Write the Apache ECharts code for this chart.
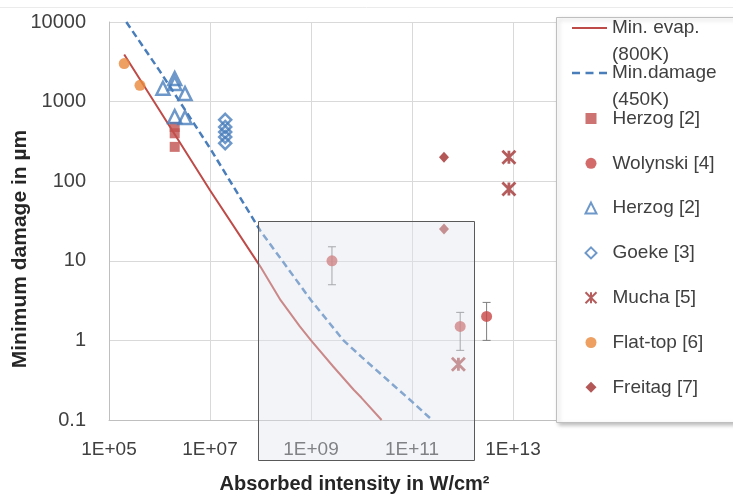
<!DOCTYPE html>
<html>
<head>
<meta charset="utf-8">
<script src="https://cdn.jsdelivr.net/npm/echarts@6/dist/echarts.min.js"></script>
<style>
html, body { margin: 0; padding: 0; background: #fff; }
#chart { width: 733px; height: 494px; }
</style>
</head>
<body>
<div id="chart"></div>
<script>
// x = absorbed intensity (W/cm2), y = minimum damage (um)
const evapX = [2e5, 1e6, 1e7, 1e8, 2.5e8, 6e8, 1e9, 2.75e9, 7e9, 1e10, 2.5e10];
const evapY = [3900, 780, 77, 8.4, 3.2, 1.5, 1.0, 0.47, 0.24, 0.19, 0.1];

const damX = [2.2e5, 1e6, 1e7, 1e8, 1e9, 4.4e9, 1e10, 2.7e10, 1e11, 2.5e11];
const damY = [10000, 2450, 260, 23.7, 3.2, 1.0, 0.62, 0.355, 0.17, 0.1];

const herzogSqX = [2e6, 2e6, 2e6];
const herzogSqY = [480, 400, 270];

const wolX = [2.6e9, 9e11, 3e12];
const wolY = [10, 1.5, 2];
const wolLo = [5, 0.75, 1];
const wolHi = [15, 2.25, 3];

const herzogTriX = [1.17e6, 2e6, 2e6, 3.2e6, 2e6, 3.2e6];
const herzogTriY = [1470, 1950, 1690, 1260, 650, 630];

const goekeX = [2e7, 2e7, 2e7, 2e7, 2e7];
const goekeY = [590, 480, 415, 360, 300];

const muchaX = [8.3e12, 8.3e12, 8.3e11];
const muchaY = [200, 80, 0.5];

const flatX = [2e5, 4.1e5];
const flatY = [3000, 1600];

const freitagX = [4.3e11, 4.3e11];
const freitagY = [200, 25];

// highlighted region (x from..to, top y value)
const boxX = [8.9e7, 1.7e12];
const boxTopY = 31.6;

const FONT = 'Liberation Sans, Arial, sans-serif';
const pts = (xs, ys) => xs.map((x, i) => [x, ys[i]]);

const markerNames = ['Herzog [2]', 'Wolynski [4]', 'Herzog [2] ', 'Goeke [3]', 'Mucha [5]', 'Flat-top [6]', 'Freitag [7]'];

// legend icons for the two curves
const solidIcon = 'path://M0,0L35,0L35,2.2L0,2.2Z';
const dashIcon = 'path://M0,0L8,0L8,2.5L0,2.5ZM13.5,0L21.5,0L21.5,2.5L13.5,2.5ZM27,0L35,0L35,2.5L27,2.5Z';

const chart = echarts.init(document.getElementById('chart'));

const lineLegendText = { fontSize: 19, color: '#404040', fontFamily: FONT, lineHeight: 26.5 };

const option = {
  animation: false,
  grid: { left: 109, right: 119, top: 22, bottom: 74, outerBoundsMode: 'none' },
  xAxis: {
    type: 'log',
    min: 1e5,
    max: 1e15,
    interval: 2,
    name: 'Absorbed intensity in W/cm²',
    nameLocation: 'middle',
    nameGap: 54,
    nameTextStyle: { fontSize: 20, fontWeight: 'bold', color: '#262626', fontFamily: FONT, padding: [0, 14, 0, 0] },
    axisLine: { lineStyle: { color: '#bfbfbf' } },
    axisTick: { show: false },
    axisLabel: {
      fontSize: 19, color: '#404040', fontFamily: FONT, margin: 20, showMaxLabel: false,
      formatter: v => {
        const e = Math.round(Math.log10(v));
        if (e % 2 === 0) return '';
        return '1E+' + String(e).padStart(2, '0');
      }
    },
    splitLine: { show: true, lineStyle: { color: '#d9d9d9' } }
  },
  yAxis: {
    type: 'log',
    min: 0.1,
    max: 10000,
    name: 'Minimum damage in µm',
    nameLocation: 'middle',
    nameGap: 78,
    nameMoveOverlap: false,
    nameTextStyle: { fontSize: 21, fontWeight: 'bold', color: '#262626', fontFamily: FONT, padding: [0, 56, 0, 0] },
    axisLine: { show: true, lineStyle: { color: '#bfbfbf' } },
    axisTick: { show: false },
    axisLabel: {
      fontSize: 20, color: '#404040', fontFamily: FONT, margin: 23,
      formatter: v => (v < 1 ? v.toFixed(1) : String(Math.round(v)))
    },
    splitLine: { show: true, lineStyle: { color: '#d9d9d9' } }
  },
  legend: [
    {
      orient: 'vertical', left: 572, top: -11.75, padding: 0, selectedMode: false,
      itemWidth: 35, itemHeight: 14,
      data: [{ name: 'Min. evap. (800K)', icon: solidIcon }],
      formatter: n => '\n' + n.replace(' (', '\n('),
      textStyle: lineLegendText
    },
    {
      orient: 'vertical', left: 572, top: 33.25, padding: 0, selectedMode: false,
      itemWidth: 35, itemHeight: 14,
      data: [{ name: 'Min.damage (450K)', icon: dashIcon }],
      formatter: n => '\n' + n.replace(' (', '\n('),
      textStyle: lineLegendText
    },
    {
      orient: 'vertical', left: 584.5, top: 108.5, padding: 0, selectedMode: false,
      itemWidth: 11, itemHeight: 11, itemGap: 24.8,
      data: markerNames,
      formatter: n => n.trim(),
      textStyle: { fontSize: 19, color: '#404040', fontFamily: FONT, lineHeight: 20, padding: [0, 0, 0, 11] }
    }
  ],
  series: [
    {
      name: 'Min. evap. (800K)', type: 'line', symbol: 'none', z: 2,
      data: pts(evapX, evapY),
      lineStyle: { color: '#be4b48', width: 2 },
      itemStyle: { color: '#be4b48' }
    },
    {
      name: 'Min.damage (450K)', type: 'line', symbol: 'none', z: 2,
      data: pts(damX, damY),
      lineStyle: { color: '#4a7ebb', width: 2.5, type: [7, 4] },
      itemStyle: { color: '#4a7ebb' }
    },
    {
      name: 'err', type: 'custom', silent: true, z: 2,
      data: wolX.map((x, i) => [x, wolLo[i], wolHi[i]]),
      encode: { x: 0, y: [1, 2] },
      renderItem: (params, api) => {
        const lo = api.coord([api.value(0), api.value(1)]);
        const hi = api.coord([api.value(0), api.value(2)]);
        const w = 4;
        const st = { stroke: '#7f7f7f', lineWidth: 1 };
        return {
          type: 'group',
          children: [
            { type: 'line', shape: { x1: lo[0], y1: lo[1], x2: hi[0], y2: hi[1] }, style: st },
            { type: 'line', shape: { x1: lo[0] - w, y1: lo[1], x2: lo[0] + w, y2: lo[1] }, style: st },
            { type: 'line', shape: { x1: hi[0] - w, y1: hi[1], x2: hi[0] + w, y2: hi[1] }, style: st }
          ]
        };
      }
    },
    {
      name: 'Herzog [2]', type: 'scatter', z: 3, symbol: 'rect', symbolSize: 10,
      data: pts(herzogSqX, herzogSqY),
      itemStyle: { color: '#c0504d' }
    },
    {
      name: 'Wolynski [4]', type: 'scatter', z: 3, symbol: 'circle', symbolSize: 11,
      data: pts(wolX, wolY),
      itemStyle: { color: '#c84646' }
    },
    {
      name: 'Herzog [2] ', type: 'scatter', z: 3, symbol: 'triangle', symbolSize: 13,
      data: pts(herzogTriX, herzogTriY),
      itemStyle: { color: 'transparent', borderColor: '#4a7ebb', borderWidth: 2.5 }
    },
    {
      name: 'Goeke [3]', type: 'scatter', z: 3, symbol: 'diamond', symbolSize: 12,
      data: pts(goekeX, goekeY),
      itemStyle: { color: 'transparent', borderColor: '#4a7ebb', borderWidth: 2.5 }
    },
    {
      name: 'Mucha [5]', type: 'scatter', z: 3,
      symbol: 'path://M0,0L10,10M10,0L0,10M5,0L5,10', symbolSize: 13,
      data: pts(muchaX, muchaY),
      itemStyle: { color: '#a33434', borderColor: '#a33434', borderWidth: 2.8 }
    },
    {
      name: 'Flat-top [6]', type: 'scatter', z: 3, symbol: 'circle', symbolSize: 11,
      data: pts(flatX, flatY),
      itemStyle: { color: '#e8883a' }
    },
    {
      name: 'Freitag [7]', type: 'scatter', z: 3, symbol: 'diamond', symbolSize: [10, 11],
      data: pts(freitagX, freitagY),
      itemStyle: { color: '#a12d2d' }
    }
  ]
};

chart.setOption(option);

// overlay box and legend frame
const p1 = chart.convertToPixel({ gridIndex: 0 }, [boxX[0], boxTopY]);
const p2 = chart.convertToPixel({ gridIndex: 0 }, [boxX[1], 0.1]);
const bx = Math.round(p1[0]) + 0.5;
const by = Math.round(p1[1]) + 0.5;
const bw = Math.round(p2[0] - p1[0]);
const bh = Math.round(p2[1] + 40 - p1[1]);

chart.setOption({
  graphic: [
    {
      id: 'topline', type: 'line', z: 1,
      shape: { x1: 0, y1: 7.5, x2: 733, y2: 7.5 },
      style: { stroke: '#ebebeb', lineWidth: 1 }
    },
    {
      id: 'region', type: 'rect', z: 10, silent: true,
      shape: { x: bx, y: by, width: bw, height: bh },
      style: { fill: 'rgba(222,228,235,0.4)', stroke: '#595959', lineWidth: 1 }
    },
    {
      id: 'legendbox', type: 'rect', z: 3, silent: true,
      shape: { x: 556.5, y: 17.5, width: 200, height: 405 },
      style: {
        fill: '#fff', stroke: '#bfbfbf', lineWidth: 1,
        shadowBlur: 4, shadowOffsetX: 2, shadowOffsetY: 2, shadowColor: 'rgba(0,0,0,0.25)'
      }
    }
  ]
});
</script>
</body>
</html>
